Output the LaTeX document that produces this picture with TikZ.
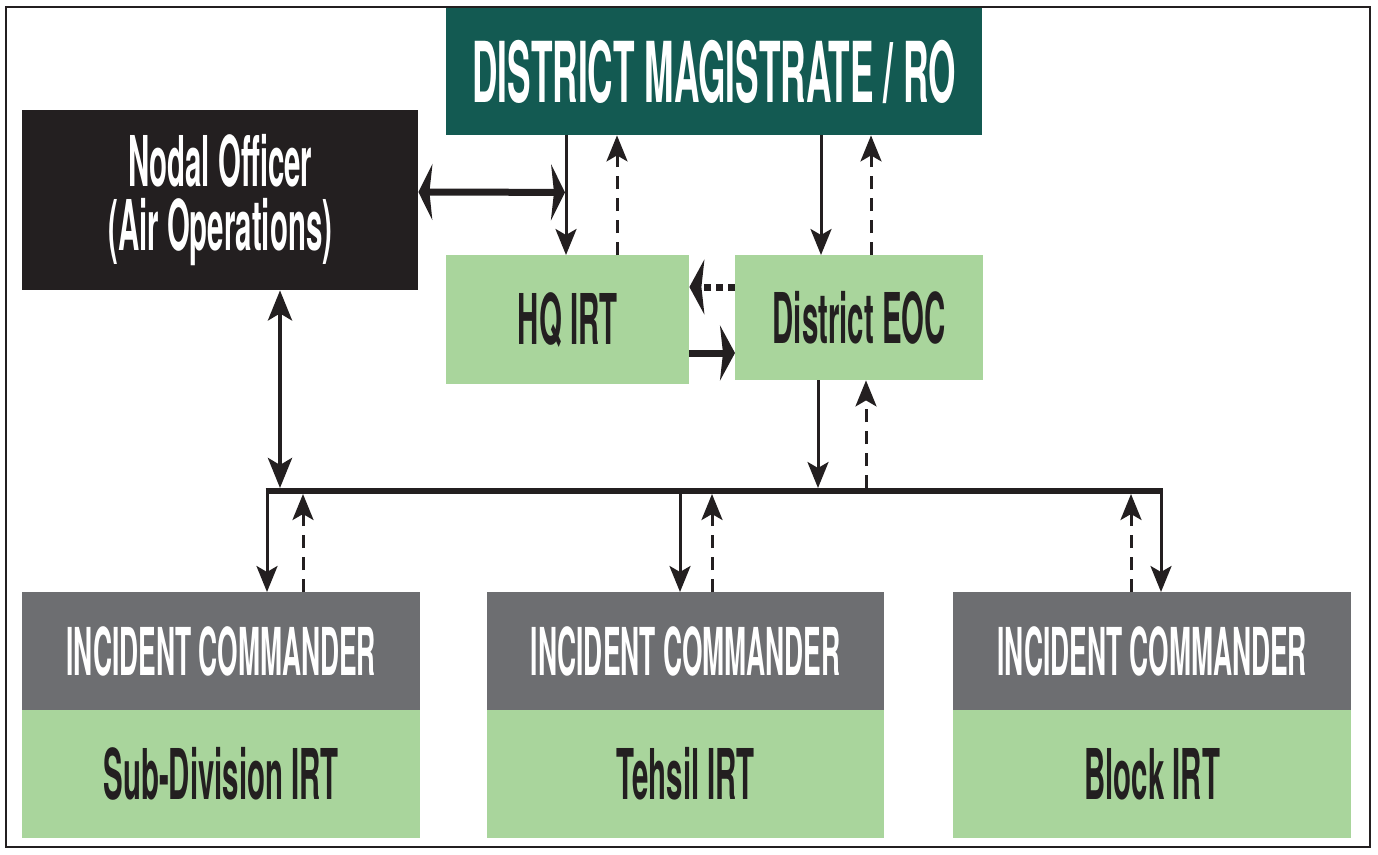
\documentclass[tikz,border=0pt]{standalone}
\usepackage{fontspec}
\newfontfamily\cf[FakeStretch=0.42]{TeX Gyre Heros}
\newfontfamily\cfn[FakeStretch=0.40]{TeX Gyre Heros}
\usetikzlibrary{arrows.meta,calc}
\definecolor{dmteal}{HTML}{135A52}
\definecolor{nodalblk}{HTML}{231F20}
\definecolor{lgreen}{HTML}{A9D59C}
\definecolor{icgray}{HTML}{6D6E71}
\definecolor{ink}{HTML}{231F20}
\begin{document}
\begin{tikzpicture}[x=1pt,y=-1pt,
  box/.style={rectangle, inner sep=0pt, anchor=north west, align=center},
  big/.style={font=\cf\bfseries\fontsize{70}{61}\selectfont},
  icbox/.style={box, fill=icgray, text=white, minimum width=398pt, minimum height=118pt,
     font=\cfn\bfseries\fontsize{66}{70}\selectfont},
  irtbox/.style={box, fill=lgreen, text=ink, minimum width=398pt, minimum height=128pt, big},
  vline/.style={draw=ink, line width=3pt},
  varr/.style={vline, -{Stealth[length=26pt,width=21pt,inset=6pt]}},
  vdash/.style={varr, dash pattern=on 13pt off 9pt},
  vbi/.style={draw=ink, line width=4.5pt, {Stealth[length=30pt,width=24pt,inset=7pt]}-{Stealth[length=30pt,width=24pt,inset=7pt]}},
  harr/.style={draw=ink, line width=7pt, -{Stealth[length=15pt,width=55pt,inset=3pt]}},
  hdash/.style={harr, dash pattern=on 7pt off 5pt},
  hbi/.style={draw=ink, line width=7pt, {Stealth[length=14pt,width=56pt,inset=3pt]}-{Stealth[length=14pt,width=56pt,inset=3pt]}},
  bus/.style={draw=ink, line width=6pt}
]
\useasboundingbox (0,0) rectangle (1378,854);
\fill[white] (0,0) rectangle (1378,854);

% boxes
\node[box, fill=dmteal, text=white, minimum width=536pt, minimum height=127pt,
      font=\cf\bfseries\fontsize{84}{90}\selectfont] (dm) at (446,8) {DISTRICT MAGISTRATE / RO};
\node[box, fill=nodalblk, text=white, minimum width=396pt, minimum height=180pt,
      font=\cf\bfseries\fontsize{70}{64}\selectfont] (nodal) at (22,110)
      {Nodal Officer\\(Air Operations)};
\node[box, fill=lgreen, text=ink, minimum width=243pt, minimum height=129pt, big] (hq) at (446,255) {HQ IRT};
\node[box, fill=lgreen, text=ink, minimum width=248pt, minimum height=125pt, big] (eoc) at (735,255) {District EOC};

\node[icbox] (ic1) at (22,592) {INCIDENT COMMANDER};
\node[irtbox] (irt1) at (22,710) {Sub-Division IRT};
\node[icbox, minimum width=397pt] (ic2) at (487,592) {INCIDENT COMMANDER};
\node[irtbox, minimum width=397pt] (irt2) at (487,710) {Tehsil IRT};
\node[icbox] (ic3) at (953,592) {INCIDENT COMMANDER};
\node[irtbox] (irt3) at (953,710) {Block IRT};

% bus
\coordinate (busL) at (265.5,491);
\coordinate (busR) at (1162.5,491);
\draw[bus] (busL) -- (busR);

% top connectors
\draw[hbi] ($(nodal.north east)+(0,82)$) -- ($(dm.south west)+(119,57)$);
\draw[varr] ($(dm.south west)+(120,0)$) -- ($(hq.north west)+(120,0)$);
\draw[vdash] ($(hq.north west)+(171,0)$) -- ($(dm.south west)+(171,0)$);
\draw[varr] ($(dm.south west)+(375,0)$) -- ($(eoc.north west)+(86,0)$);
\draw[vdash] ($(eoc.north west)+(136,0)$) -- ($(dm.south west)+(425,0)$);
\draw[hdash] ($(eoc.north west)+(0,32)$) -- ($(hq.north east)+(0,32)$);
\draw[harr] ($(hq.north east)+(0,98)$) -- ($(eoc.north west)+(0,98)$);

% to/from bus
\draw[varr] ($(eoc.south west)+(83,0)$) -- ($(busL)+(552.5,-3)$);
\draw[vdash] ($(busL)+(600.5,-3)$) -- ($(eoc.south west)+(131,0)$);
\draw[vbi] ($(nodal.south west)+(258,0)$) -- ($(busL)+(14.5,-3)$);

\draw[varr] ($(busL)+(1.5,-3)$) -- ($(ic1.north west)+(245,0)$);
\draw[vdash] ($(ic1.north west)+(281,0)$) -- ($(busL)+(37.5,3)$);
\draw[varr] ($(busL)+(414.5,3)$) -- ($(ic2.north west)+(193,0)$);
\draw[vdash] ($(ic2.north west)+(225,0)$) -- ($(busL)+(446.5,3)$);
\draw[vdash] ($(ic3.north west)+(178,0)$) -- ($(busL)+(865.5,3)$);
\draw[varr] ($(busR)+(-1.5,-3)$) -- ($(ic3.north west)+(208,0)$);

% frame
\draw[ink, line width=2.5pt] (6,7) rectangle (1370,847);
\end{tikzpicture}
\end{document}
